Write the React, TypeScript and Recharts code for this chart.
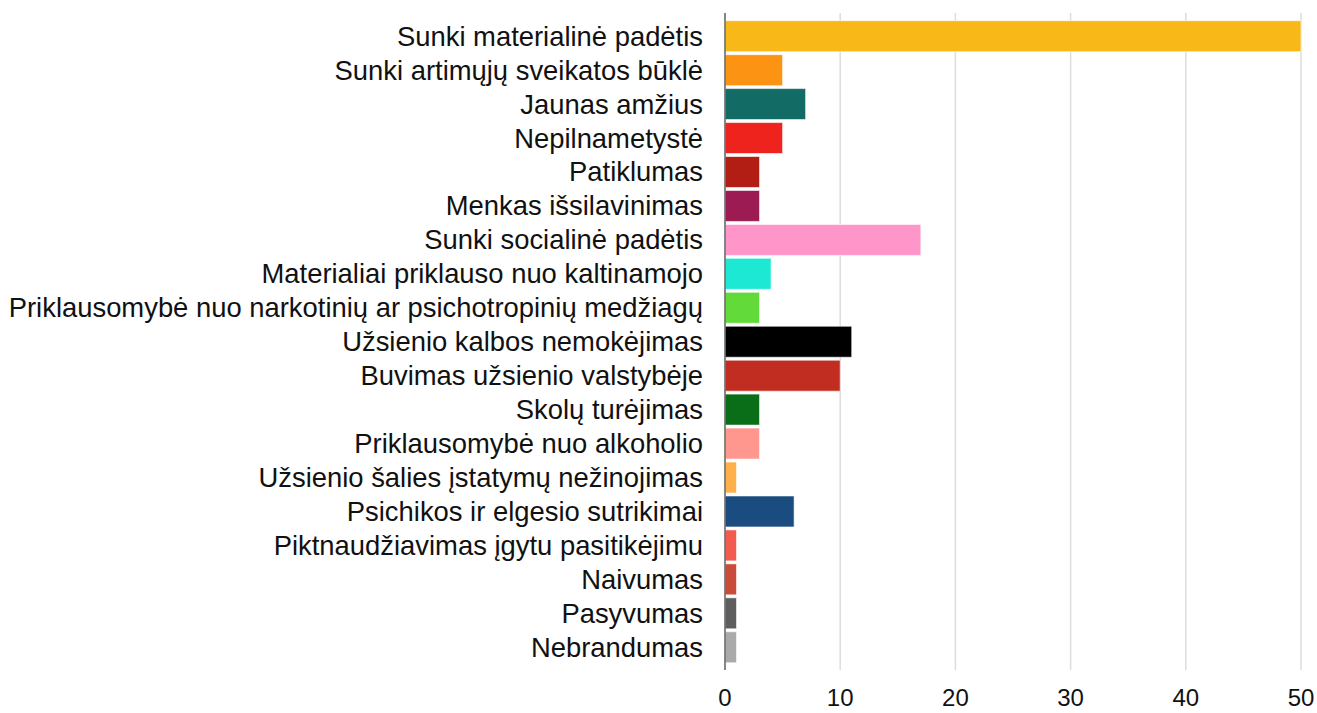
import { Bar, BarChart, CartesianGrid, Cell, XAxis, YAxis } from 'recharts';

const categories = [
  'Sunki materialinė padėtis',
  'Sunki artimųjų sveikatos būklė',
  'Jaunas amžius',
  'Nepilnametystė',
  'Patiklumas',
  'Menkas išsilavinimas',
  'Sunki socialinė padėtis',
  'Materialiai priklauso nuo kaltinamojo',
  'Priklausomybė nuo narkotinių ar psichotropinių medžiagų',
  'Užsienio kalbos nemokėjimas',
  'Buvimas užsienio valstybėje',
  'Skolų turėjimas',
  'Priklausomybė nuo alkoholio',
  'Užsienio šalies įstatymų nežinojimas',
  'Psichikos ir elgesio sutrikimai',
  'Piktnaudžiavimas įgytu pasitikėjimu',
  'Naivumas',
  'Pasyvumas',
  'Nebrandumas',
];

const values = [50, 5, 7, 5, 3, 3, 17, 4, 3, 11, 10, 3, 3, 1, 6, 1, 1, 1, 1];

const colors = [
  '#f8b918', '#fd9313', '#136b66', '#ee231e', '#b21e13', '#9b1b52', '#ff95c9',
  '#1de8d4', '#62db3a', '#000000', '#c12e21', '#0a6e18', '#ff978e', '#ffb04a',
  '#1a4c80', '#f45b4f', '#c94b3a', '#5e5e5e', '#aaaaaa',
];

const xTicks = [0, 10, 20, 30, 40, 50];

const data = categories.map((name, i) => ({ name, value: values[i] }));

const font = 'Liberation Sans, Arial, Helvetica, sans-serif';

export default function App() {
  return (
    <div style={{ position: 'absolute', left: 0, top: 0, width: 1317, height: 713, background: '#fff' }}>
      <BarChart
        width={1317}
        height={713}
        data={data}
        layout="vertical"
        margin={{ top: 13, right: 16, left: 0, bottom: 0 }}
        barCategoryGap="5%"
      >
        <CartesianGrid horizontal={false} stroke="#dddddd" strokeWidth={1.5} />
        <XAxis
          type="number"
          domain={[0, 50]}
          ticks={xTicks}
          axisLine={false}
          tickLine={false}
          tickMargin={13}
          height={43}
          tick={{ fill: '#111', fontSize: 24, fontFamily: font }}
        />
        <YAxis
          type="category"
          dataKey="name"
          width={725}
          interval={0}
          tickLine={false}
          tickMargin={16}
          axisLine={{ stroke: '#666', strokeWidth: 1.5 }}
          padding={{ top: 6, bottom: 6 }}
          tick={{ fill: '#111', fontSize: 27.4, fontFamily: font }}
        />
        <Bar dataKey="value" isAnimationActive={false} stroke="#ffffff" strokeOpacity={0.6} strokeWidth={1}>
          {data.map((_, i) => (
            <Cell key={i} fill={colors[i]} />
          ))}
        </Bar>
      </BarChart>
    </div>
  );
}
